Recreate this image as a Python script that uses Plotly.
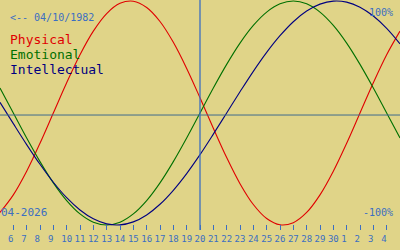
import plotly.graph_objects as go
import pandas as pd

# ---- data (one per day, 5 Apr 2026 .. 5 May 2026) ----
dates = pd.date_range("2026-04-05", "2026-05-05", freq="D")
physical = [-0.888, -0.731, -0.520, -0.270, 0.000, 0.270, 0.520, 0.731, 0.888, 0.979,
            0.998, 0.942, 0.817, 0.631, 0.398, 0.136, -0.136, -0.398, -0.631, -0.817,
            -0.942, -0.998, -0.979, -0.888, -0.731, -0.520, -0.270, 0.000, 0.270, 0.520,
            0.731]
emotional = [0.223, 0.000, -0.223, -0.434, -0.624, -0.782, -0.901, -0.975, -1.000, -0.975,
             -0.901, -0.782, -0.624, -0.434, -0.223, 0.000, 0.223, 0.434, 0.624, 0.782,
             0.901, 0.975, 1.000, 0.975, 0.901, 0.782, 0.624, 0.434, 0.223, 0.000,
             -0.223]
intellectual = [0.095, -0.095, -0.282, -0.458, -0.618, -0.756, -0.866, -0.945, -0.990, -0.999,
                -0.972, -0.910, -0.815, -0.690, -0.541, -0.372, -0.189, 0.000, 0.189, 0.372,
                0.541, 0.690, 0.815, 0.910, 0.972, 0.999, 0.990, 0.945, 0.866, 0.756,
                0.618]
series_names = ["Physical", "Emotional", "Intellectual"]
tick_dates = pd.date_range("2026-04-06", "2026-05-04", freq="D")
tick_labels = [str(d.day) for d in tick_dates]
today = "2026-04-20"
birth_label = "<-- 04/10/1982"
month_label = "04-2026"
top_label = "100%"
bottom_label = "-100%"

# ---- style ----
W, H = 400, 250
BG = "#E0D488"
BLUE = "#3B6EC2"
colors = ["#E00000", "#007000", "#000080"]
MONO = "DejaVu Sans Mono"

def py(p):
    return 1 - p / H

def px(p):
    return p / W

fig = go.Figure()
for name, vals, col in zip(series_names, [physical, emotional, intellectual], colors):
    fig.add_trace(go.Scatter(x=dates, y=vals, name=name, mode="lines",
                             line=dict(color=col, width=1.1, shape="spline"),
                             showlegend=False, hoverinfo="skip"))

fig.add_hline(y=-0.018, line=dict(color="#3F6A8E", width=1))
fig.add_vline(x=today, line=dict(color=BLUE, width=1.3))

ann = []
ann.append(dict(text=birth_label, x=px(9), y=py(17.5), xanchor="left", yanchor="middle",
                font=dict(family=MONO, size=10, color=BLUE)))
for i, (name, col) in enumerate(zip(series_names, colors)):
    ann.append(dict(text=name, x=px(9), y=py(39.5 + 15 * i), xanchor="left", yanchor="middle",
                    font=dict(family=MONO, size=13, color=col)))
ann.append(dict(text=month_label, x=px(0), y=py(212.5), xanchor="left", yanchor="middle",
                font=dict(family=MONO, size=11, color=BLUE)))
ann.append(dict(text=top_label, x=px(394), y=py(12.5), xanchor="right", yanchor="middle",
                font=dict(family=MONO, size=10, color=BLUE)))
ann.append(dict(text=bottom_label, x=px(394), y=py(212.5), xanchor="right", yanchor="middle",
                font=dict(family=MONO, size=10, color=BLUE)))
for a in ann:
    a.update(xref="paper", yref="paper", showarrow=False, borderpad=0)

fig.update_layout(
    width=W, height=H, margin=dict(l=0, r=0, t=0, b=0),
    paper_bgcolor=BG, plot_bgcolor=BG, annotations=ann,
    xaxis=dict(range=[dates[0], dates[-1]], showgrid=False, zeroline=False, showline=False,
               tickvals=tick_dates,
               ticktext=[t if len(t) > 1 else t + "\u00a0" for t in tick_labels],
               ticks="inside", ticklen=5, tickwidth=1, tickcolor=BLUE, ticklabelstandoff=2,
               tickfont=dict(family=MONO, size=9, color=BLUE), tickangle=0),
    yaxis=dict(range=[-1.0446, 1.0089], domain=[0.08, 1], visible=False, fixedrange=True),
)
fig.write_html("out.html")
